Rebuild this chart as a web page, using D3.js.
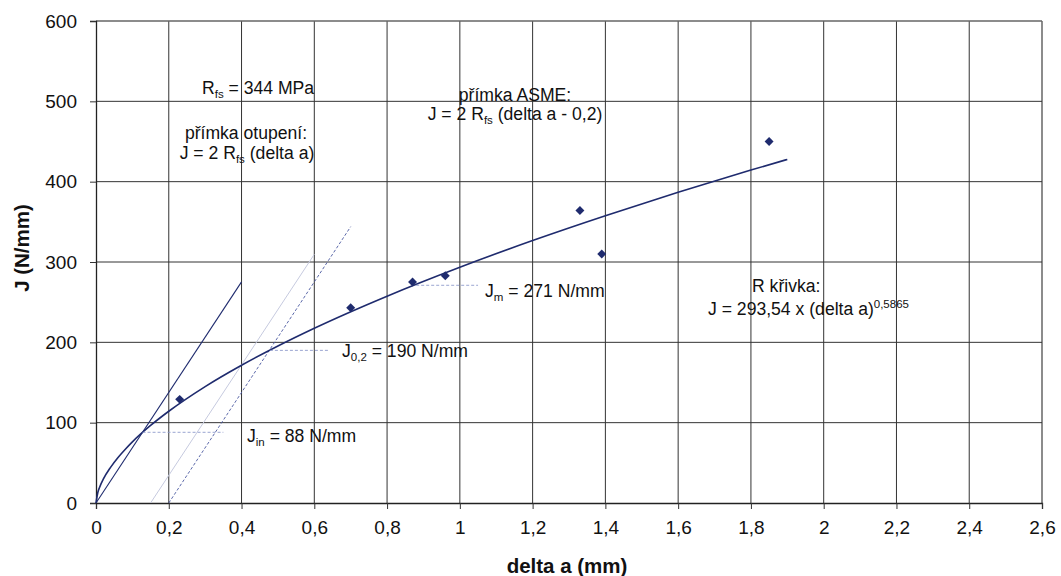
<!DOCTYPE html>
<html><head><meta charset="utf-8">
<script src="https://cdn.jsdelivr.net/npm/d3@7/dist/d3.min.js"></script>
<style>body{margin:0;background:#fff}svg{display:block;font-family:Arial,"Liberation Sans",sans-serif}</style>
</head><body><svg id="c" width="1061" height="576"></svg>
<script>
// measured points
const pointsDa = [0.23, 0.70, 0.87, 0.96, 1.33, 1.39, 1.85];
const pointsJ  = [129, 243, 275, 283, 364, 310, 450];
// R curve (power fit)
const curveDa = [0, 0.005, 0.01, 0.02, 0.04, 0.06, 0.08, 0.1, 0.15, 0.2, 0.3, 0.4, 0.5, 0.6, 0.8, 1.0, 1.2, 1.4, 1.6, 1.8, 1.9];
const curveJ  = [0, 13.1, 19.7, 29.6, 44.4, 56.4, 66.7, 76.1, 96.5, 114.2, 144.9, 171.5, 195.5, 217.6, 257.5, 293.5, 326.7, 357.6, 386.7, 414.4, 427.7];
// blunting line, exclusion line 0.15, ASME line 0.2
const bluntDa = [0, 0.4];   const bluntJ = [0, 275.2];
const excl15Da = [0.15, 0.6]; const excl15J = [0, 309.6];
const asmeDa = [0.2, 0.7];  const asmeJ = [0, 344];
// horizontal markers
const markDa0 = [0.128, 0.478, 0.88];
const markDa1 = [0.35, 0.64, 1.05];
const markJ   = [88, 190, 271];
const xTicks = [0,0.2,0.4,0.6,0.8,1,1.2,1.4,1.6,1.8,2,2.2,2.4,2.6];
const yTicks = [0,100,200,300,400,500,600];

const svg = d3.select("#c");
const L=96, R=1042, T=21, B=503;
const x = d3.scaleLinear().domain([0,2.6]).range([L,R]);
const y = d3.scaleLinear().domain([0,600]).range([B,T]);
const fmt = d => String(+d.toFixed(1)).replace(".", ",");
const FONT = "Arial, 'Liberation Sans', sans-serif";

const g = svg.append("g");
// grid
g.selectAll(".vg").data(xTicks.slice(1)).join("line")
  .attr("x1",d=>x(d)).attr("x2",d=>x(d)).attr("y1",T).attr("y2",B)
  .attr("stroke",(d,i)=>i===xTicks.length-2?"#666":"#333").attr("stroke-width",(d,i)=>i===xTicks.length-2?1.5:1);
g.selectAll(".hg").data(yTicks.slice(1)).join("line")
  .attr("y1",d=>y(d)).attr("y2",d=>y(d)).attr("x1",L).attr("x2",R)
  .attr("stroke",(d,i)=>i===yTicks.length-2?"#666":"#333").attr("stroke-width",(d,i)=>i===yTicks.length-2?1.5:1);

// axes
const xa = svg.append("g").attr("transform",`translate(0,${B})`)
  .call(d3.axisBottom(x).tickValues(xTicks).tickFormat(fmt).tickSize(6).tickPadding(12));
const ya = svg.append("g").attr("transform",`translate(${L},0)`)
  .call(d3.axisLeft(y).tickValues(yTicks).tickSize(6).tickPadding(13));
[xa,ya].forEach(a=>{
  a.attr("font-size",19).attr("font-family",FONT);
  a.select(".domain").attr("stroke","#222").attr("stroke-width",1.3);
  a.selectAll(".tick line").attr("stroke","#333");
  a.selectAll("text").attr("fill","#111");});

const navy="#1f2b6e";
const line = d3.line().x(d=>x(d[0])).y(d=>y(d[1]));
const zip=(a,b)=>a.map((v,i)=>[v,b[i]]);
svg.append("path").attr("d",line(zip(excl15Da,excl15J))).attr("stroke","#c6cadf").attr("stroke-width",1).attr("fill","none");
svg.append("path").attr("d",line(zip(asmeDa,asmeJ))).attr("stroke","#4a58a0").attr("stroke-width",0.9).attr("stroke-dasharray","3,2").attr("fill","none");
svg.append("path").attr("d",line(zip(bluntDa,bluntJ))).attr("stroke",navy).attr("stroke-width",1.1).attr("fill","none");
svg.append("path").attr("d",line.curve(d3.curveMonotoneX)(zip(curveDa,curveJ))).attr("stroke",navy).attr("stroke-width",1.6).attr("fill","none");
// markers lines
svg.selectAll(".mk").data(markJ).join("line")
  .attr("x1",(d,i)=>x(markDa0[i])).attr("x2",(d,i)=>x(markDa1[i]))
  .attr("y1",d=>y(d)).attr("y2",d=>y(d))
  .attr("stroke","#8f9bcc").attr("stroke-width",0.9).attr("stroke-dasharray","3,2");
// points
svg.selectAll(".pt").data(zip(pointsDa,pointsJ)).join("path")
  .attr("transform",d=>`translate(${x(d[0])},${y(d[1])}) rotate(45)`)
  .attr("d",d3.symbol(d3.symbolSquare,40)).attr("fill",navy);

// texts: parts = [text, sub/sup?]
function txt(xp,yp,parts,anchor){
  const t=svg.append("text").attr("x",xp).attr("y",yp).attr("font-size",17.6).attr("font-family",FONT)
    .attr("fill","#111").attr("text-anchor",anchor||"start");
  let shift=0;
  parts.forEach(p=>{
    const s=t.append("tspan");
    if(typeof p==="string"){ s.attr("dy",-shift).text(p); shift=0; }
    else { s.attr("font-size",11.5).attr("dy",p.dy-shift).text(p.t); shift=p.dy; }
  });
  return t;
}
txt(202,94,["R",{t:"fs",dy:4}," = 344 MPa"]);
txt(246,139,["přímka otupení:"],"middle");
txt(247,159,["J = 2 R",{t:"fs",dy:4}," (delta a)"],"middle");
txt(515,101,["přímka ASME:"],"middle");
txt(515,120,["J = 2 R",{t:"fs",dy:4}," (delta a - 0,2)"],"middle");
txt(485,297,["J",{t:"m",dy:4}," = 271 N/mm"]);
txt(342,357,["J",{t:"0,2",dy:4}," = 190 N/mm"]);
txt(247,442,["J",{t:"in",dy:4}," = 88 N/mm"]);
txt(752,292,["R křivka:"]);
txt(708,315,["J = 293,54 x (delta a)",{t:"0,5865",dy:-7}]);

svg.append("text").attr("x",567).attr("y",573).attr("text-anchor","middle").attr("font-size",20.5).attr("font-family",FONT).attr("font-weight","bold").attr("fill","#111").text("delta a (mm)");
svg.append("text").attr("transform","translate(29,248) rotate(-90)").attr("text-anchor","middle").attr("font-size",20.5).attr("font-family",FONT).attr("font-weight","bold").attr("fill","#111").text("J (N/mm)");
</script></body></html>
